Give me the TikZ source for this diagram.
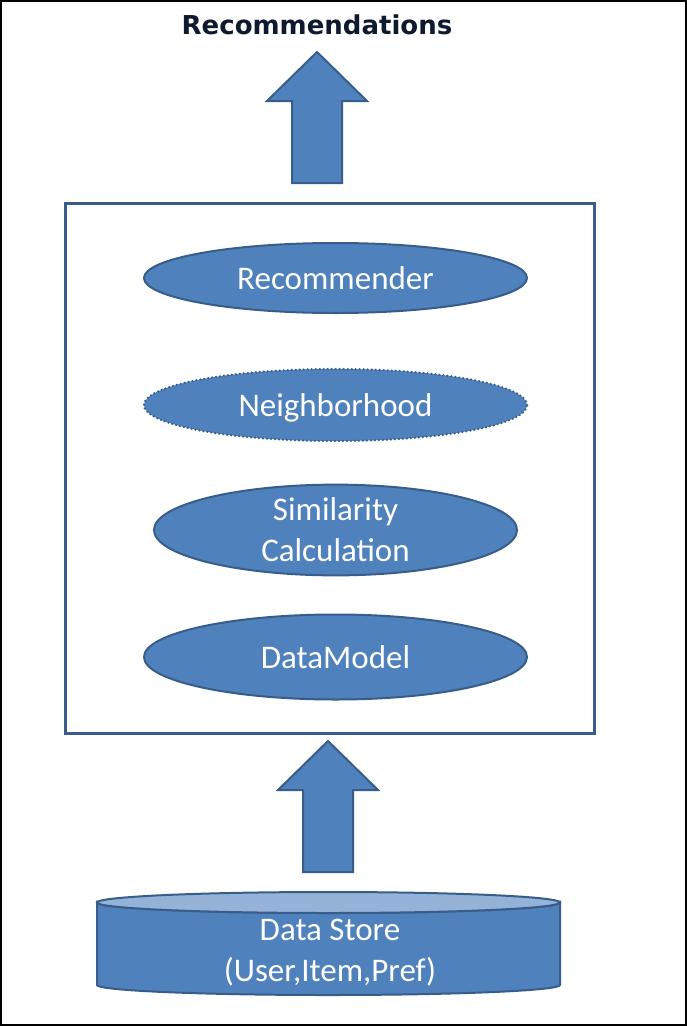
\documentclass[tikz,border=0pt]{standalone}
\usepackage{fontspec}
\setmainfont{Carlito}
\newfontfamily\headfont{DejaVu Sans}
\usetikzlibrary{shapes.geometric}
\definecolor{sblue}{HTML}{4F81BD}
\definecolor{sline}{HTML}{385D8A}
\definecolor{stopc}{HTML}{95B3D7}
\definecolor{navy}{HTML}{0F1A2E}
\begin{document}
\begin{tikzpicture}[x=1pt,y=-1pt,
  oval/.style={ellipse, fill=sblue, draw=sline, line width=2pt, inner sep=0pt,
    text=white, font=\fontsize{33}{41}\selectfont, align=center},
  oneline/.style={text height=26pt, text depth=4pt},
  blockarrow/.pic={
    \draw[fill=sblue, draw=sline, line width=2pt, line join=miter]
      (0,0) -- (50,49) -- (25,49) -- (25,131) -- (-25,131) -- (-25,49) -- (-50,49) -- cycle;
  },
  label/.style={font=\fontsize{33}{41}\selectfont, text=white, align=center, inner sep=0pt}
]
\useasboundingbox (0,0) rectangle (687,1026);
\fill[white] (0,0) rectangle (687,1026);
\draw[black, line width=2pt] (1,1) rectangle (685.5,1024.5);

% title
\node[font=\headfont\bfseries\fontsize{26}{30}\selectfont, text=navy, anchor=base, inner sep=0pt]
  (rec) at (317,34) {Recommendations};

% top arrow
\pic (uparrowtop) at (317,52) {blockarrow};

% engine box
\node[draw=sline, line width=2.5pt, minimum width=529pt, minimum height=530pt,
  inner sep=0pt, anchor=north west] (engine) at (64,202) {};

% components
\node[oval, oneline, minimum width=383pt, minimum height=70pt] (recommender) at (335.5,278) {Recommender};
\node[oval, oneline, minimum width=383pt, minimum height=72pt, draw=sline,
  dash pattern=on 0pt off 4pt, line cap=round, line width=2.5pt] (neigh) at (335.5,405) {Neighborhood};
\node[oval, minimum width=363pt, minimum height=85pt] (sim) at (335.5,530) {Similarity\\Calculation};
\node[oval, oneline, minimum width=383pt, minimum height=85pt] (dm) at (335.5,657) {DataModel};

% bottom arrow
\pic (uparrowbottom) at (328,741) {blockarrow};

% data store cylinder
\draw[fill=sblue, draw=sline, line width=2pt]
  (97,902.5) -- (97,985) arc[start angle=180, end angle=0, x radius=231.5, y radius=10]
  -- (560,902.5) arc[start angle=0, end angle=180, x radius=231.5, y radius=10.5] -- cycle;
\draw[fill=stopc, draw=sline, line width=2pt] (328.5,902.5) ellipse [x radius=231.5, y radius=10.5];
\node[label] (store) at (330,953) {Data Store\\(User,Item,Pref)};
\end{tikzpicture}
\end{document}
